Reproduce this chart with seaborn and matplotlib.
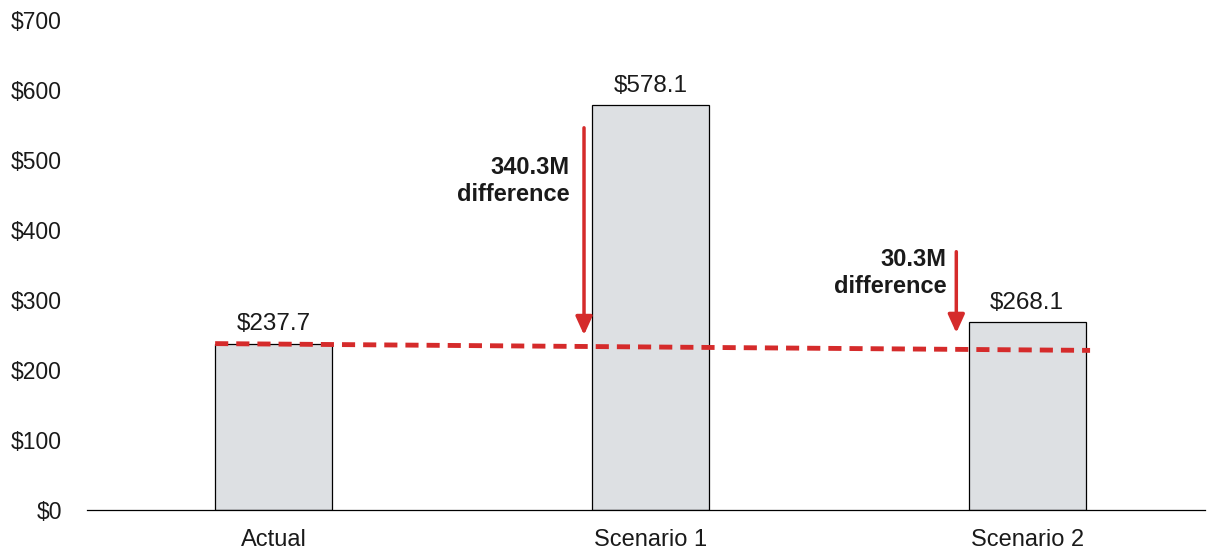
import matplotlib
matplotlib.use("Agg")
import matplotlib.pyplot as plt
import seaborn as sns
import pandas as pd

categories = ["Actual", "Scenario 1", "Scenario 2"]
values = [237.7, 578.1, 268.1]
value_labels = ["$237.7", "$578.1", "$268.1"]
yticks = [0, 100, 200, 300, 400, 500, 600, 700]
ytick_labels = ["$0", "$100", "$200", "$300", "$400", "$500", "$600", "$700"]
baseline_x = [-0.155, 2.167]
baseline_y = [237.7, 228.0]
arrow_x = [0.824, 1.812]
arrow_start = [546, 369]
arrow_end = [250, 253]
arrow_texts = ["340.3M\ndifference", "30.3M\ndifference"]
arrow_text_x = [0.786, 1.785]
arrow_text_y = [505, 374]

sns.set_theme(style="white")
plt.rcParams['font.family'] = ['Liberation Sans', 'DejaVu Sans']

fig = plt.figure(figsize=(12.07, 5.52), dpi=100)
ax = fig.add_axes([87/1207, 1-510/552, (1205-87)/1207, 490/552])

df = pd.DataFrame({"cat": categories, "val": values})
sns.barplot(data=df, x="cat", y="val", ax=ax, color="#DDE0E3", width=0.31,
            edgecolor="black", linewidth=0.9, saturation=1)

for i, (v, lab) in enumerate(zip(values, value_labels)):
    ax.text(i, v + 12, lab, ha="center", va="bottom", fontsize=17.5, color="#1a1a1a")

red = "#D52B2B"
ax.plot(baseline_x, baseline_y, color=red, lw=3.5, dashes=(2.7, 1.65), zorder=5)

for x, s, e, t, tx, ty in zip(arrow_x, arrow_start, arrow_end, arrow_texts, arrow_text_x, arrow_text_y):
    ax.annotate("", xy=(x, e), xytext=(x, s),
                arrowprops=dict(arrowstyle="-|>,head_length=0.55,head_width=0.25",
                                color=red, lw=2.5, shrinkA=0, shrinkB=0, mutation_scale=20),
                zorder=6)
    ax.text(tx, ty, t, ha="right", va="top", fontsize=17, fontweight="bold",
            color="#1a1a1a", linespacing=1.2)

ax.set_ylim(0, 700)
ax.set_xlim(-0.495, 2.472)
ax.set_yticks(yticks)
ax.set_yticklabels(ytick_labels)
ax.set_xlabel("")
ax.set_ylabel("")
for s in ["top", "right", "left"]:
    ax.spines[s].set_visible(False)
ax.spines["bottom"].set_color("black")
ax.spines["bottom"].set_linewidth(0.9)
ax.tick_params(axis="y", length=0, pad=18, labelsize=16.5, labelcolor="#1a1a1a")
ax.tick_params(axis="x", length=0, pad=14, labelsize=17, labelcolor="#1a1a1a")

fig.savefig("out.png", dpi=100)
